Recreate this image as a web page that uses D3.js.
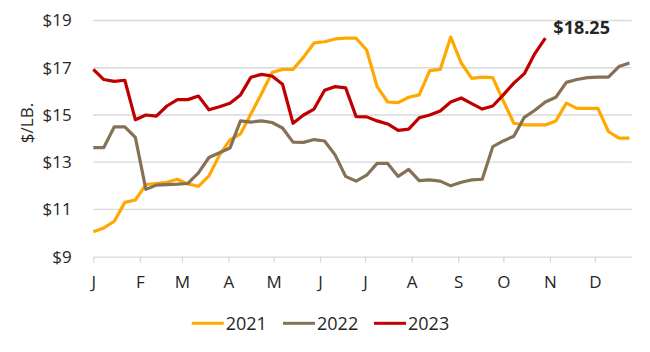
<!DOCTYPE html>
<html>
<head>
<meta charset="utf-8">
<script src="https://cdn.jsdelivr.net/npm/d3@7"></script>
<style>
  html, body { margin: 0; padding: 0; background: #ffffff; }
  svg { display: block; }
  text { font-family: "Open Sans", "Noto Sans", sans-serif; fill: #262626; }
</style>
</head>
<body>
<script>
// ---- Data (weekly $/lb values, week 0 = Jan 1) ----
const monthLabels = ["J","F","M","A","M","J","J","A","S","O","N","D"];
const yTickValues = [9, 11, 13, 15, 17, 19];
const seriesNames = ["2021", "2022", "2023"];
const seriesColors = ["#FFA800", "#857256", "#C00000"];

const values2021 = [10.06,10.22,10.5,11.3,11.4,12.05,12.1,12.15,12.28,12.08,11.98,12.42,13.3,13.95,
  14.2,15.05,15.9,16.8,16.93,16.93,17.45,18.05,18.1,18.22,18.25,18.25,17.75,
  16.2,15.55,15.52,15.75,15.85,16.88,16.93,18.3,17.2,16.55,16.6,16.58,15.6,
  14.65,14.58,14.58,14.58,14.75,15.5,15.28,15.28,15.28,14.3,14.02,14.02];
const values2022 = [13.62,13.62,14.5,14.5,14.05,11.85,12.03,12.05,12.07,12.1,12.55,13.2,13.4,13.6,
  14.75,14.7,14.75,14.68,14.45,13.85,13.84,13.96,13.9,13.31,12.4,12.2,12.45,
  12.95,12.95,12.4,12.7,12.22,12.25,12.2,12.0,12.15,12.25,12.28,13.66,13.9,
  14.1,14.9,15.2,15.55,15.75,16.38,16.5,16.58,16.6,16.6,17.05,17.2];
const values2023 = [16.93,16.5,16.42,16.47,14.8,15.0,14.95,15.38,15.65,15.65,15.8,15.22,15.35,15.5,
  15.85,16.6,16.72,16.65,16.3,14.65,15.0,15.25,16.05,16.2,16.15,14.93,14.92,
  14.75,14.62,14.35,14.4,14.88,15.0,15.17,15.55,15.72,15.48,15.25,15.38,15.85,
  16.35,16.75,17.6,18.25];
const lastLabel = "$18.25";

// ---- Layout ----
const W = 650, H = 352;
const margin = { left: 93.3, right: 650 - 631.7, top: 20.5, bottom: 352 - 256.7 };

const svg = d3.select("body").append("svg").attr("width", W).attr("height", H);

const startDate = new Date(Date.UTC(2021, 0, 1));
const endDate = new Date(Date.UTC(2021, 11, 25, 12));
const weekDate = i => d3.utcDay.offset(startDate, i * 7);

const x = d3.scaleUtc().domain([startDate, endDate]).range([margin.left, W - margin.right]);
const y = d3.scaleLinear().domain([9, 19]).range([H - margin.bottom, margin.top]);

// gridlines
svg.append("g")
  .selectAll("line")
  .data(yTickValues.filter(v => v !== 9))
  .join("line")
  .attr("x1", x.range()[0]).attr("x2", x.range()[1])
  .attr("y1", d => y(d)).attr("y2", d => y(d))
  .attr("stroke", "#d9d9d9").attr("stroke-width", 1.3);

// y axis labels
const yAxis = d3.axisLeft(y).tickValues(yTickValues).tickFormat(d => "$" + d).tickSize(0).tickPadding(0);
const gy = svg.append("g").attr("transform", `translate(${71.7},0)`).call(yAxis);
gy.select(".domain").remove();
gy.selectAll("text").attr("font-size", 17).attr("fill", "#262626")
  .attr("font-family", '"Open Sans", sans-serif');

// x axis
const monthTicks = d3.utcMonth.range(startDate, endDate);
const xAxis = d3.axisBottom(x).tickValues(monthTicks)
  .tickFormat((d, i) => monthLabels[i]).tickSize(6).tickSizeOuter(0).tickPadding(13);
const gx = svg.append("g").attr("transform", `translate(0,${y(9)})`).call(xAxis);
gx.select(".domain").attr("stroke", "#d9d9d9").attr("stroke-width", 1.3);
gx.selectAll(".tick line").attr("stroke", "#d9d9d9").attr("stroke-width", 1.3);
gx.selectAll("text").attr("font-size", 17).attr("fill", "#262626")
  .attr("font-family", '"Open Sans", sans-serif');

// y title
svg.append("text")
  .attr("transform", `translate(33,123) rotate(-90)`)
  .attr("text-anchor", "middle")
  .attr("font-size", 17)
  .text("$/LB.");

// lines
const allSeries = [values2021, values2022, values2023];
const line = d3.line()
  .x((d, i) => x(weekDate(i)))
  .y(d => y(d));

svg.append("g")
  .selectAll("path")
  .data(allSeries)
  .join("path")
  .attr("d", d => line(d))
  .attr("fill", "none")
  .attr("stroke", (d, i) => seriesColors[i])
  .attr("stroke-width", 3.2)
  .attr("stroke-linejoin", "round")
  .attr("stroke-linecap", "butt");

// end label
const lastIdx = values2023.length - 1;
svg.append("text")
  .attr("x", x(weekDate(lastIdx)) + 8)
  .attr("y", 34)
  .attr("font-size", 18)
  .attr("font-weight", "bold")
  .attr("fill", "#000")
  .text(lastLabel);

// legend
const legendX = [191.7, 283, 374];
const leg = svg.append("g");
seriesNames.forEach((name, i) => {
  const g = leg.append("g").attr("transform", `translate(${legendX[i]},323.3)`);
  g.append("line").attr("x1", 0).attr("x2", 32).attr("y1", 0).attr("y2", 0)
    .attr("stroke", seriesColors[i]).attr("stroke-width", 3);
  g.append("text").attr("x", 34).attr("y", 6.3).attr("font-size", 18).text(name);
});
</script>
</body>
</html>
